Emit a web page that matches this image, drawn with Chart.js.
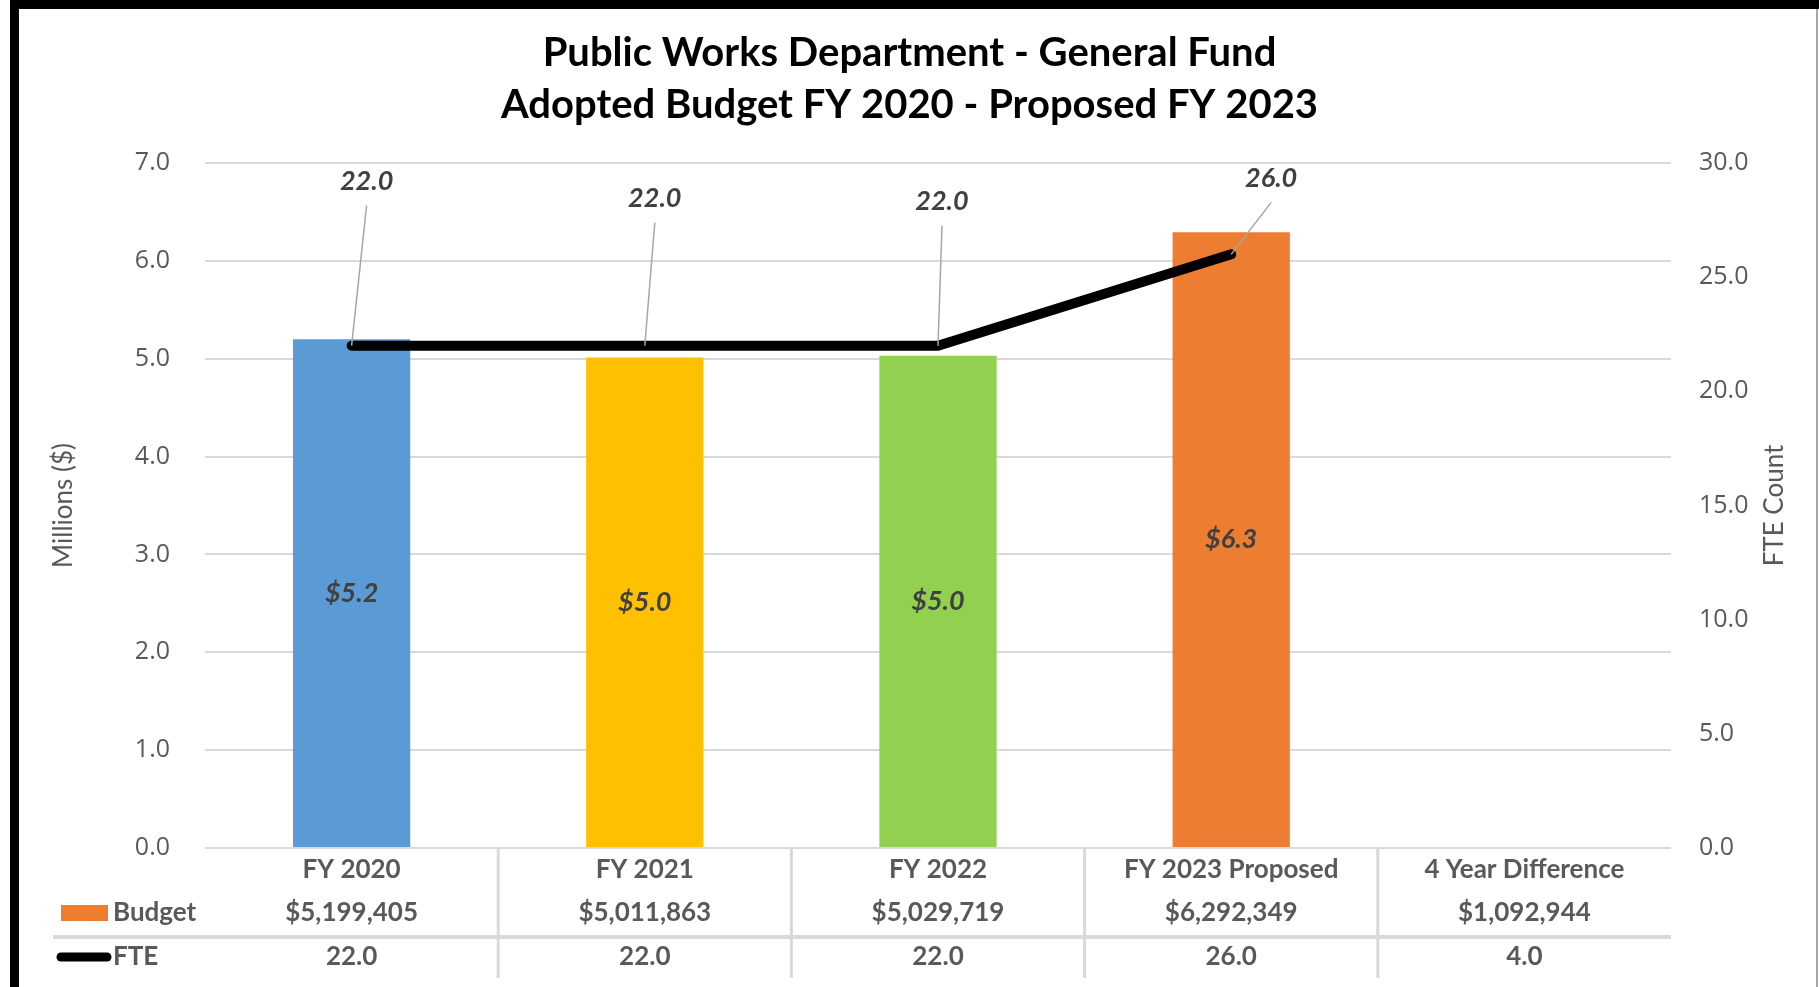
<!DOCTYPE html>
<html>
<head>
<meta charset="utf-8">
<script src="https://cdn.jsdelivr.net/npm/chart.js@4.4.1/dist/chart.umd.min.js"></script>
<style>
  html, body { margin: 0; padding: 0; background: #fff; overflow: hidden; }
</style>
</head>
<body>
<canvas id="budgetChart" width="1819" height="987"></canvas>
<script>
const categories = ['FY 2020', 'FY 2021', 'FY 2022', 'FY 2023 Proposed', '4 Year Difference'];
const budgetDollars = [5199405, 5011863, 5029719, 6292349, 1092944];
const budgetMillions = [5.199, 5.012, 5.030, 6.292, null];
const fteCounts = [22.0, 22.0, 22.0, 26.0, 4.0];
const fteLine = [22.0, 22.0, 22.0, 26.0, null];
const barColors = ['#5B9BD5', '#FFC000', '#92D050', '#ED7D31', '#ED7D31'];
const millionTicks = { min: 0, max: 7, step: 1 };
const fteTicks = { min: 0, max: 30, step: 5 };

const GREY = '#595959';
const GRID = '#D9D9D9';
const NARROW = 'Lato, "Open Sans", sans-serif';
const TICKFONT = '"Open Sans", "DejaVu Sans", sans-serif';

// label offsets for the FTE callouts (px from the point)
const fteLabelOffsets = [[15, -164], [10, -147], [4, -144], [40, -76]];

const frame = {
  id: 'frame',
  beforeDraw(chart) {
    const { ctx, width, height } = chart;
    ctx.save();
    ctx.fillStyle = '#fff';
    ctx.fillRect(0, 0, width, height);
    ctx.fillStyle = '#000';
    ctx.fillRect(10, 0, width - 10, 9);
    ctx.fillRect(10, 0, 9, height);
    ctx.fillStyle = '#A6A6A6';
    ctx.fillRect(width - 3, 9, 2, height);
    ctx.restore();
  }
};

const valueLabels = {
  id: 'valueLabels',
  afterDatasetsDraw(chart) {
    const { ctx } = chart;
    ctx.save();
    ctx.font = 'italic bold 27px ' + NARROW;
    ctx.fillStyle = '#404040';
    ctx.textAlign = 'center';
    ctx.textBaseline = 'middle';

    chart.getDatasetMeta(0).data.forEach((bar, i) => {
      const v = budgetMillions[i];
      if (v == null) return;
      ctx.fillText('$' + v.toFixed(1), bar.x, (bar.y + bar.base) / 2);
    });

    chart.getDatasetMeta(1).data.forEach((pt, i) => {
      const v = fteLine[i];
      if (v == null) return;
      const [dx, dy] = fteLabelOffsets[i];
      const lx = pt.x + dx, ly = pt.y + dy;
      ctx.strokeStyle = '#A6A6A6';
      ctx.lineWidth = 1.5;
      ctx.beginPath();
      ctx.moveTo(lx, ly + 24);
      ctx.lineTo(pt.x, pt.y);
      ctx.stroke();
      ctx.fillText(v.toFixed(1), lx, ly);
    });
    ctx.restore();
  }
};

const dataTable = {
  id: 'dataTable',
  afterDraw(chart) {
    const { ctx, chartArea } = chart;
    const x = chart.scales.x;
    const base = chartArea.bottom;
    const budgetY = base + 65;
    const fteY = base + 109;
    const sepY = base + 89;
    ctx.save();

    // dividers
    ctx.strokeStyle = GRID;
    ctx.lineWidth = 3;
    for (let i = 0; i < categories.length - 1; i++) {
      const bx = (x.getPixelForValue(i) + x.getPixelForValue(i + 1)) / 2;
      ctx.beginPath();
      ctx.moveTo(bx, base);
      ctx.lineTo(bx, base + 130);
      ctx.stroke();
    }
    ctx.lineWidth = 4;
    ctx.beginPath();
    ctx.moveTo(53, sepY);
    ctx.lineTo(chartArea.right, sepY);
    ctx.stroke();

    ctx.font = 'bold 26px ' + NARROW;
    ctx.fillStyle = GREY;
    ctx.textAlign = 'center';
    ctx.textBaseline = 'middle';
    categories.forEach((c, i) => {
      const cx = x.getPixelForValue(i);
      ctx.fillText('$' + budgetDollars[i].toLocaleString('en-US'), cx, budgetY);
      ctx.fillText(fteCounts[i].toFixed(1), cx, fteY);
    });

    // legend keys
    ctx.fillStyle = '#ED7D31';
    ctx.fillRect(61, budgetY - 8, 47, 16);
    ctx.strokeStyle = '#000';
    ctx.lineWidth = 9;
    ctx.lineCap = 'round';
    ctx.beginPath();
    ctx.moveTo(61, fteY);
    ctx.lineTo(107, fteY);
    ctx.stroke();
    ctx.fillStyle = GREY;
    ctx.textAlign = 'left';
    ctx.fillText('Budget', 113, budgetY);
    ctx.fillText('FTE', 113, fteY);

    // right axis title, reading bottom to top
    ctx.font = '26px ' + NARROW;
    ctx.textAlign = 'center';
    ctx.translate(1775, (chartArea.top + chartArea.bottom) / 2);
    ctx.rotate(-Math.PI / 2);
    ctx.fillText('FTE Count', 0, 0);
    ctx.restore();
  }
};

new Chart(document.getElementById('budgetChart'), {
  type: 'bar',
  data: {
    labels: categories,
    datasets: [
      {
        label: 'Budget',
        data: budgetMillions,
        backgroundColor: barColors,
        barPercentage: 0.4,
        categoryPercentage: 1.0,
        yAxisID: 'y',
        order: 1
      },
      {
        type: 'line',
        label: 'FTE',
        data: fteLine,
        borderColor: '#000',
        borderWidth: 10,
        borderCapStyle: 'round',
        borderJoinStyle: 'round',
        pointRadius: 0,
        tension: 0,
        yAxisID: 'y1',
        order: 0
      }
    ]
  },
  options: {
    responsive: false,
    animation: false,
    devicePixelRatio: 1,
    layout: { padding: 0 },
    plugins: {
      legend: { display: false },
      tooltip: { enabled: false },
      title: {
        display: true,
        text: ['Public Works Department - General Fund', 'Adopted Budget FY 2020 - Proposed FY 2023'],
        color: '#000',
        font: { family: NARROW, size: 40, weight: 'bold', lineHeight: '52px' },
        padding: { top: 27, bottom: 32 }
      }
    },
    scales: {
      x: {
        grid: { display: false },
        border: { display: false },
        ticks: {
          color: GREY,
          font: { family: NARROW, size: 26, weight: 'bold' },
          padding: -2,
          autoSkip: false,
          maxRotation: 0
        },
        afterFit(scale) { scale.height = 139; }
      },
      y: {
        position: 'left',
        min: millionTicks.min,
        max: millionTicks.max,
        border: { display: false },
        grid: { color: GRID, lineWidth: 2, drawTicks: false },
        ticks: {
          stepSize: millionTicks.step,
          color: GREY,
          padding: 35,
          font: { family: TICKFONT, size: 25 },
          callback: v => v.toFixed(1)
        },
        title: {
          display: true,
          text: 'Millions ($)',
          color: GREY,
          font: { family: NARROW, size: 26 },
          padding: { top: 48 }
        },
        afterFit(scale) { scale.width = 205; }
      },
      y1: {
        position: 'right',
        min: fteTicks.min,
        max: fteTicks.max,
        border: { display: false },
        grid: { display: false, drawTicks: false },
        ticks: {
          stepSize: fteTicks.step,
          color: GREY,
          padding: 28,
          font: { family: TICKFONT, size: 25 },
          callback: v => v.toFixed(1)
        },
        afterFit(scale) { scale.width = 148; }
      }
    }
  },
  plugins: [frame, valueLabels, dataTable]
});
</script>
</body>
</html>
